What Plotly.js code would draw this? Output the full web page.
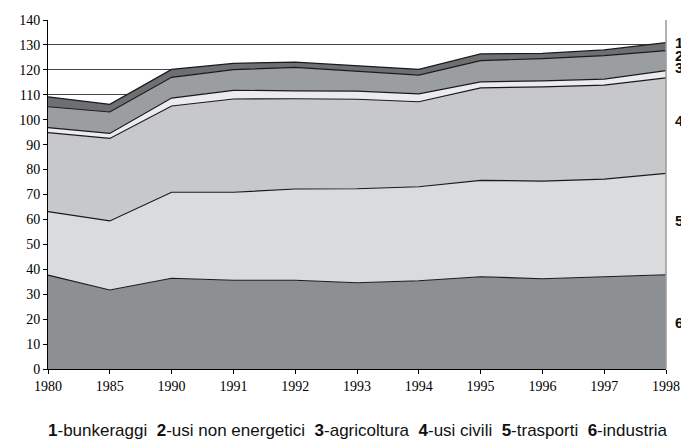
<!DOCTYPE html>
<html>
<head>
<meta charset="utf-8">
<script src="https://cdn.plot.ly/plotly-3.0.1.min.js"></script>
<style>html,body{margin:0;padding:0;background:#fff;}#chart{width:681px;height:441px;}</style>
</head>
<body>
<div id="chart"></div>
<script>
const years = ['1980','1985','1990','1991','1992','1993','1994','1995','1996','1997','1998'];
const industria = [37.7, 31.7, 36.4, 35.6, 35.6, 34.6, 35.4, 37.0, 36.2, 37.0, 37.8];
const trasporti = [25.4, 27.7, 34.5, 35.3, 36.6, 37.7, 37.7, 38.7, 39.2, 39.2, 40.7];
const usiCivili = [31.7, 33.1, 34.6, 37.4, 36.2, 35.9, 34.1, 37.1, 37.8, 37.7, 38.3];
const agricoltura = [2.0, 2.0, 3.2, 3.5, 3.2, 3.3, 3.2, 2.4, 2.4, 2.4, 2.9];
const usiNonEnergetici = [8.4, 8.6, 8.3, 8.3, 9.4, 8.0, 7.5, 8.5, 8.9, 9.4, 8.0];
const bunkeraggi = [4.0, 3.1, 3.2, 2.5, 2.1, 2.2, 2.3, 2.7, 2.1, 2.3, 3.2];

const seriesNums = ['1','2','3','4','5','6'];
const seriesNames = ['bunkeraggi','usi non energetici','agricoltura','usi civili','trasporti','industria'];

const stackOrder = [
  {y: industria, color: '#8d9093'},
  {y: trasporti, color: '#dadbdd'},
  {y: usiCivili, color: '#c7c8ca'},
  {y: agricoltura, color: '#ececee'},
  {y: usiNonEnergetici, color: '#9b9ea1'},
  {y: bunkeraggi, color: '#6e6f72'}
];

const traces = stackOrder.map((s, i) => ({
  x: years, y: s.y, type: 'scatter', mode: 'lines',
  stackgroup: 'one', fillcolor: s.color,
  line: {color: '#1a1a1a', width: 1.2},
  name: seriesNames[5 - i], hoverinfo: 'skip'
}));

const serif = 'Liberation Serif';
const sans = 'Liberation Sans';

// right-side labels positioned at data heights
const labelY = [130.8, 125.6, 120.8, 99.5, 59.4, 18.5];
const annotations = seriesNums.map((n, i) => ({
  xref: 'paper', yref: 'y', x: 1.011, y: labelY[i], xanchor: 'left', yanchor: 'middle',
  text: '<b>' + n + '</b>', showarrow: false,
  font: {family: sans, size: 15, color: '#111'}
}));

annotations.push({
  xref: 'paper', yref: 'paper', x: 0.502, y: -0.175, xanchor: 'center', yanchor: 'middle',
  showarrow: false,
  text: seriesNums.map((n, i) => '<b>' + n + '</b>-' + seriesNames[i]).join(' \u00a0'),
  font: {family: sans, size: 17, color: '#111'}
});

const layout = {
  width: 681, height: 441,
  margin: {l: 48, r: 15, t: 20, b: 72},
  paper_bgcolor: '#fff', plot_bgcolor: '#fff',
  showlegend: false,
  font: {family: serif},
  xaxis: {
    type: 'category', range: [0, 10], showgrid: false, zeroline: false,
    showline: true, linecolor: '#000', linewidth: 1,
    ticks: 'outside', ticklen: 4, tickcolor: '#000',
    tickfont: {family: serif, size: 14, color: '#000'}
  },
  yaxis: {
    range: [0, 140], dtick: 10, showgrid: true, gridcolor: '#444', gridwidth: 1,
    zeroline: false, showline: true, linecolor: '#000', linewidth: 1,
    ticks: 'outside', ticklen: 4, tickcolor: '#000',
    tickfont: {family: serif, size: 14, color: '#000'}
  },
  shapes: [{
    type: 'line', xref: 'paper', yref: 'paper', x0: 1, x1: 1, y0: 0, y1: 1,
    line: {color: '#999', width: 1.5}
  }],
  annotations: annotations
};

Plotly.newPlot('chart', traces, layout, {displayModeBar: false, staticPlot: true});
</script>
</body>
</html>
